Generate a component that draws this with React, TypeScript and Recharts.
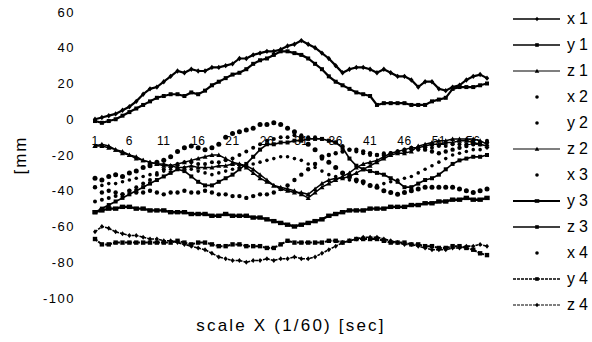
import React from "react";
import { Legend, Line, LineChart, XAxis, YAxis } from "recharts";

// frame index (1/60 sec steps)
const steps = [
  1, 2, 3, 4, 5, 6, 7, 8, 9, 10, 11, 12, 13, 14, 15, 16, 17, 18, 19, 20,
  21, 22, 23, 24, 25, 26, 27, 28, 29, 30, 31, 32, 33, 34, 35, 36, 37, 38, 39, 40,
  41, 42, 43, 44, 45, 46, 47, 48, 49, 50, 51, 52, 53, 54, 55, 56, 57, 58,
];

const yTicks = [60, 40, 20, 0, -20, -40, -60, -80, -100];

const x1 = [
  0, 1, 2, 3, 5, 7, 10, 14, 17, 18, 21, 24, 27, 26, 28, 27, 27, 29, 29, 30,
  31, 34, 34, 36, 37, 38, 38, 39, 41, 42, 44, 42, 40, 37, 34, 30, 26, 28, 29, 29,
  28, 26, 28, 26, 24, 24, 22, 18, 21, 21, 17, 16, 18, 19, 22, 24, 25, 23,
];
const y1 = [
  -1, -2, -1, 0, 2, 4, 6, 8, 10, 12, 13, 14, 14, 13, 15, 14, 16, 19, 21, 23,
  25, 26, 28, 31, 33, 34, 36, 38, 38, 37, 36, 34, 31, 28, 24, 21, 19, 17, 15, 14,
  13, 8, 9, 9, 9, 9, 8, 8, 8, 10, 11, 12, 17, 18, 18, 18, 19, 20,
];
const z1 = [
  -15, -15, -16, -17, -19, -20, -22, -23, -24, -25, -26, -26, -27, -27, -26, -27, -27, -27, -26, -26,
  -25, -25, -26, -28, -31, -34, -37, -39, -40, -41, -41, -42, -39, -36, -34, -33, -33, -32, -30, -28,
  -26, -24, -22, -20, -19, -19, -18, -15, -14, -13, -12, -12, -11, -11, -11, -11, -12, -14,
];
const x2 = [
  -33, -34, -32, -31, -32, -30, -29, -27, -26, -24, -23, -21, -18, -16, -15, -16, -17, -16, -14, -10,
  -8, -7, -6, -5, -3, -3, -2, -3, -5, -7, -10, -14, -17, -21, -24, -27, -30, -32, -34, -35,
  -37, -38, -40, -41, -42, -41, -40, -39, -38, -38, -38, -38, -38, -39, -40, -41, -40, -39,
];
const y2 = [
  -38, -41, -40, -41, -42, -40, -41, -41, -40, -41, -42, -41, -41, -40, -41, -41, -40, -41, -42, -42,
  -43, -43, -44, -43, -42, -42, -41, -39, -37, -34, -31, -28, -25, -22, -20, -19, -18, -17, -17, -18,
  -19, -20, -20, -19, -18, -17, -16, -16, -17, -18, -19, -18, -17, -16, -15, -14, -14, -13,
];
const z2 = [
  -15, -14, -15, -17, -18, -20, -21, -23, -24, -25, -25, -26, -25, -24, -23, -22, -21, -20, -20, -22,
  -24, -25, -27, -30, -33, -35, -37, -38, -39, -40, -42, -44, -41, -38, -36, -34, -32, -30, -27, -25,
  -24, -23, -21, -19, -18, -17, -16, -16, -15, -14, -14, -13, -13, -12, -12, -13, -14, -15,
];
const x3 = [
  -46, -45, -44, -43, -42, -40, -38, -36, -34, -31, -28, -26, -25, -24, -24, -25, -25, -24, -24, -23,
  -22, -20, -18, -16, -14, -12, -11, -10, -10, -9, -9, -10, -10, -11, -12, -13, -15, -17, -18, -19,
  -20, -20, -19, -19, -18, -18, -17, -17, -16, -16, -15, -15, -14, -14, -14, -13, -13, -12,
];
const y3 = [
  -52, -51, -50, -50, -49, -49, -50, -50, -51, -51, -51, -52, -52, -52, -53, -53, -53, -54, -54, -53,
  -54, -54, -54, -55, -55, -56, -57, -58, -59, -60, -59, -58, -57, -56, -54, -53, -52, -51, -51, -51,
  -50, -50, -50, -49, -49, -49, -48, -48, -47, -47, -46, -46, -45, -45, -44, -45, -45, -44,
];
const z3 = [
  -52, -50, -48, -46, -44, -42, -40, -38, -36, -34, -32, -30, -28, -29, -32, -35, -37, -37, -35, -33,
  -31, -28, -25, -21, -17, -14, -14, -13, -13, -12, -12, -11, -11, -11, -12, -13, -16, -22, -26, -28,
  -29, -30, -31, -33, -35, -38, -38, -36, -34, -33, -31, -28, -25, -23, -22, -21, -21, -20,
];
const x4 = [
  -38, -37, -36, -36, -35, -34, -33, -32, -31, -30, -29, -28, -27, -27, -28, -29, -30, -31, -30, -29,
  -28, -27, -26, -25, -24, -23, -22, -21, -21, -22, -23, -25, -27, -29, -31, -32, -33, -34, -35, -36,
  -37, -37, -36, -35, -34, -33, -32, -30, -28, -26, -24, -22, -20, -19, -18, -17, -17, -16,
];
const y4 = [
  -67, -70, -70, -69, -69, -69, -69, -69, -69, -69, -69, -69, -68, -69, -70, -69, -69, -70, -71, -71,
  -70, -70, -71, -71, -71, -72, -72, -70, -68, -69, -69, -69, -69, -69, -68, -68, -69, -68, -67, -67,
  -67, -67, -68, -69, -69, -69, -70, -70, -71, -71, -72, -72, -71, -71, -72, -73, -75, -76,
];
const z4 = [
  -63, -60, -61, -63, -64, -65, -65, -66, -67, -67, -68, -68, -69, -70, -71, -72, -73, -75, -77, -78,
  -79, -79, -80, -79, -79, -78, -79, -78, -78, -77, -78, -78, -77, -75, -73, -71, -69, -68, -67, -66,
  -66, -66, -67, -68, -69, -70, -70, -71, -72, -73, -73, -73, -72, -72, -71, -71, -70, -71,
];

type Marker = "diamond" | "square" | "triangle" | "circle" | "cross";

interface SeriesDef {
  key: string;
  values: number[];
  line: boolean;
  width: number;
  dash?: string;
  marker: Marker;
  size: number;
}

const series: SeriesDef[] = [
  { key: "x1", values: x1, line: true, width: 2.2, marker: "diamond", size: 2.2 },
  { key: "y1", values: y1, line: true, width: 2.2, marker: "square", size: 2 },
  { key: "z1", values: z1, line: true, width: 1.5, marker: "triangle", size: 2 },
  { key: "x2", values: x2, line: false, width: 0, marker: "circle", size: 2.5 },
  { key: "y2", values: y2, line: false, width: 0, marker: "circle", size: 2.2 },
  { key: "z2", values: z2, line: true, width: 1.5, marker: "triangle", size: 2 },
  { key: "x3", values: x3, line: false, width: 0, marker: "circle", size: 2 },
  { key: "y3", values: y3, line: true, width: 2.4, marker: "cross", size: 2.2 },
  { key: "z3", values: z3, line: true, width: 1.7, marker: "square", size: 2 },
  { key: "x4", values: x4, line: false, width: 0, marker: "circle", size: 1.8 },
  { key: "y4", values: y4, line: true, width: 2, dash: "3 1", marker: "square", size: 2.2 },
  { key: "z4", values: z4, line: true, width: 1.6, dash: "3 1", marker: "diamond", size: 2 },
];

const rows = steps.map((t, i) => {
  const row: Record<string, number> = { t };
  series.forEach((s) => (row[s.key] = s.values[i]));
  return row;
});

const FONT = "'Liberation Sans', Arial, sans-serif";

function drawMarker(shape: Marker, cx: number, cy: number, s: number, key?: string) {
  if (shape === "square")
    return <rect key={key} x={cx - s} y={cy - s} width={s * 2} height={s * 2} fill="#000" />;
  if (shape === "diamond")
    return (
      <path key={key} d={`M${cx},${cy - s - 0.5}L${cx + s},${cy}L${cx},${cy + s + 0.5}L${cx - s},${cy}Z`} fill="#000" />
    );
  if (shape === "triangle")
    return <path key={key} d={`M${cx},${cy - s - 0.5}L${cx + s + 0.5},${cy + s}L${cx - s - 0.5},${cy + s}Z`} fill="#000" />;
  if (shape === "cross")
    return <rect key={key} x={cx - s - 0.5} y={cy - s} width={s * 2 + 1} height={s * 2} fill="#000" />;
  return <circle key={key} cx={cx} cy={cy} r={s} fill="#000" />;
}

const dotFor = (s: SeriesDef) => (props: any) => {
  const { cx, cy, index } = props;
  if (cx == null || cy == null) return <g key={`${s.key}-${index}`} />;
  return drawMarker(s.marker, cx, cy, s.size, `${s.key}-${index}`);
};

// x tick labels sit just under the zero line, not at the bottom of the plot
const StepTick = (props: any) => {
  const { x, y, payload } = props;
  return (
    <text x={x} y={y - 155} textAnchor="middle" fontSize={12} fontFamily={FONT} fill="#000" letterSpacing="0.5">
      {payload.value}
    </text>
  );
};

const renderLegend = () => (
  <div style={{ fontFamily: FONT }}>
    {series.map((s) => (
      <div key={s.key} style={{ height: 26, display: "flex", alignItems: "center" }}>
        <svg width={63} height={26} style={{ display: "block" }}>
          {s.line && (
            <line x1={7} x2={54} y1={13} y2={13} stroke="#000" strokeWidth={s.width * 0.75} strokeDasharray={s.dash} />
          )}
          {drawMarker(s.marker, 31, 13, 1.8)}
        </svg>
        <span style={{ fontSize: 16, letterSpacing: 4, color: "#000", lineHeight: "26px" }}>{s.key}</span>
      </div>
    ))}
  </div>
);

export default function App() {
  return (
    <div style={{ position: "absolute", left: 0, top: 0, width: 592, height: 342, background: "#fff" }}>
      <LineChart width={592} height={342} data={rows} margin={{ top: 12, right: 19, bottom: 14, left: 10 }}>
        <YAxis
          width={85}
          domain={[-100, 60]}
          ticks={yTicks}
          interval={0}
          axisLine={false}
          tickLine={false}
          tickSize={0}
          tickMargin={20}
          tick={{ fontSize: 13, fill: "#000", fontFamily: FONT, letterSpacing: 1.5 }}
          label={{
            value: "[mm",
            angle: -90,
            position: "insideLeft",
            offset: 10,
            style: { fontSize: 17, letterSpacing: 2, fontFamily: FONT, fill: "#000", textAnchor: "middle" },
          }}
        />
        <Legend
          layout="vertical"
          align="right"
          verticalAlign="top"
          content={renderLegend}
          wrapperStyle={{ top: 6, right: 0, width: 86 }}
        />
        {series.map((s) => (
          <Line
            key={s.key}
            dataKey={s.key}
            type="linear"
            stroke={s.line ? "#000" : "none"}
            strokeWidth={s.width}
            strokeDasharray={s.dash}
            dot={dotFor(s)}
            activeDot={false}
            legendType="none"
            isAnimationActive={false}
          />
        ))}
        <XAxis
          dataKey="t"
          interval={4}
          height={30}
          axisLine={false}
          tickLine={false}
          tickSize={0}
          tick={<StepTick />}
          label={{
            value: "scale X (1/60) [sec]",
            position: "insideBottom",
            offset: -3,
            style: { fontSize: 17, letterSpacing: 2.2, fontFamily: FONT, fill: "#000" },
          }}
        />
      </LineChart>
    </div>
  );
}
